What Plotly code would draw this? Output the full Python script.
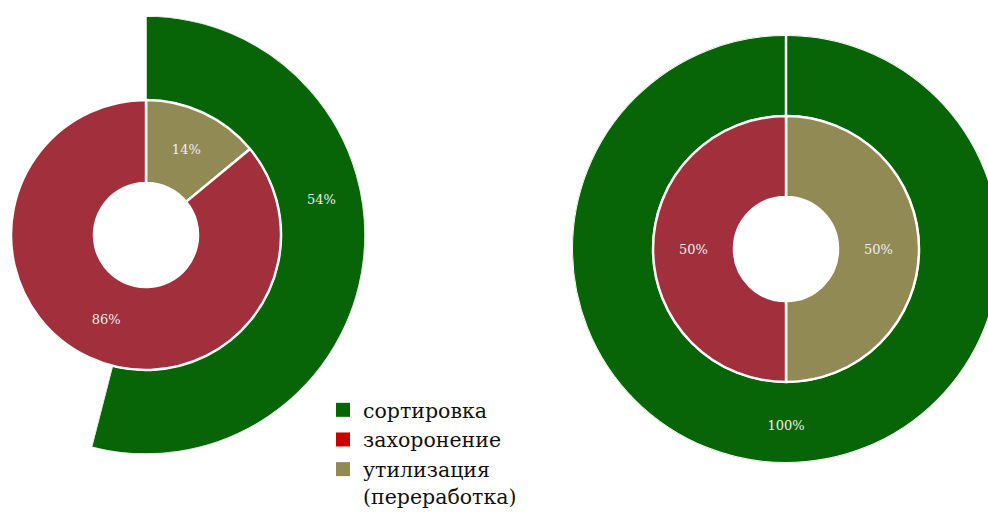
import plotly.graph_objects as go

# ---------------- data ----------------
legend_labels = ["сортировка", "захоронение", "утилизация<br>(переработка)"]
inner_labels = ["утилизация (переработка)", "захоронение"]

left_outer_value = 54          # % сортировка (left chart)
left_inner_values = [14, 86]   # утилизация, захоронение
right_outer_value = 100        # % сортировка (right chart)
right_inner_values = [50, 50]  # утилизация, захоронение

# ---------------- style ----------------
W, H = 1000, 517
FONT = "DejaVu Serif"
GREEN = "#076507"
RED = "#a2303c"
OLIVE = "#918a55"
LEG_COLORS = ["#036503", "#c80000", "#918a55"]
LABEL_COLOR = "#eeeeee"


def circle_domain(cx, cy, r):
    return dict(x=[(cx - r) / W, (cx + r) / W],
                y=[1 - (cy + r) / H, 1 - (cy - r) / H])


fig = go.Figure()

# ---- left chart: inner donut ----
fig.add_trace(go.Pie(
    labels=inner_labels, values=left_inner_values,
    domain=circle_domain(146, 235, 135), hole=52 / 135,
    sort=False, direction="clockwise", rotation=0,
    marker=dict(colors=[OLIVE, RED], line=dict(color="white", width=2.5)),
    textinfo="percent", textposition="inside", insidetextorientation="horizontal",
    textfont=dict(family=FONT, size=13, color=LABEL_COLOR),
    showlegend=False, hoverinfo="label+percent"))

# ---- left chart: outer partial ring (polar sector) ----
left_span = 360 * left_outer_value / 100
fig.add_trace(go.Barpolar(
    r=[1], theta=[left_span / 2], width=[left_span],
    marker=dict(color=GREEN, line=dict(color="white", width=1.5)),
    subplot="polar", showlegend=False, name="сортировка"))
fig.add_trace(go.Scatterpolar(
    r=[0.52], theta=[79], mode="text", text=[f"{left_outer_value}%"],
    textfont=dict(family=FONT, size=13, color=LABEL_COLOR),
    subplot="polar", showlegend=False, hoverinfo="skip"))

# ---- right chart: inner donut ----
fig.add_trace(go.Pie(
    labels=inner_labels, values=right_inner_values,
    domain=circle_domain(786, 249, 133), hole=52 / 133,
    sort=False, direction="clockwise", rotation=0,
    marker=dict(colors=[OLIVE, RED], line=dict(color="white", width=2.5)),
    textinfo="percent", textposition="inside", insidetextorientation="horizontal",
    textfont=dict(family=FONT, size=13, color=LABEL_COLOR),
    showlegend=False, hoverinfo="label+percent"))

# ---- right chart: outer full ring ----
right_span = 360 * right_outer_value / 100
fig.add_trace(go.Barpolar(
    r=[1], theta=[right_span / 2], width=[right_span],
    marker=dict(color=GREEN, line=dict(color="white", width=2)),
    subplot="polar2", showlegend=False, name="сортировка"))
# slice start border (12 o'clock)
fig.add_trace(go.Scatterpolar(
    r=[0, 1], theta=[0, 0], mode="lines",
    line=dict(color="white", width=2.5),
    subplot="polar2", showlegend=False, hoverinfo="skip"))
fig.add_trace(go.Scatterpolar(
    r=[0.55], theta=[180], mode="text", text=[f"{right_outer_value}%"],
    textfont=dict(family=FONT, size=13, color=LABEL_COLOR),
    subplot="polar2", showlegend=False, hoverinfo="skip"))

# ---- legend entries ----
for name, col in zip(legend_labels, LEG_COLORS):
    fig.add_trace(go.Scatter(
        x=[None], y=[None], mode="markers", name=name,
        marker=dict(symbol="square", size=14, color=col)))

# polar layouts
lx0 = 146 - 219 * 0.2487
left_sector_end = 90 - left_span
polar_common = dict(
    bgcolor="rgba(0,0,0,0)",
    radialaxis=dict(visible=False, range=[0, 1], showgrid=False),
    angularaxis=dict(visible=False, rotation=90, direction="clockwise", showgrid=False),
)

fig.update_layout(
    width=W, height=H,
    margin=dict(l=0, r=0, t=0, b=0),
    paper_bgcolor="white", plot_bgcolor="white",
    xaxis=dict(visible=False), yaxis=dict(visible=False),
    polar=dict(domain=dict(x=[lx0 / W, 365 / W], y=[1 - 454 / H, 1 - 16 / H]),
               sector=[left_sector_end, 90], hole=135 / 219, **polar_common),
    polar2=dict(domain=circle_domain(786, 249, 214), hole=133 / 214, **polar_common),
    showlegend=True,
    legend=dict(x=323 / W, y=1 - 390 / H, xanchor="left", yanchor="top",
                valign="top", bgcolor="rgba(0,0,0,0)",
                font=dict(family=FONT, size=20.5, color="#111111"),
                itemclick=False, itemdoubleclick=False),
)

fig.write_html("out.html",
               config={"displayModeBar": False},
               post_script="document.body.style.margin='0';document.body.style.overflow='hidden';")
